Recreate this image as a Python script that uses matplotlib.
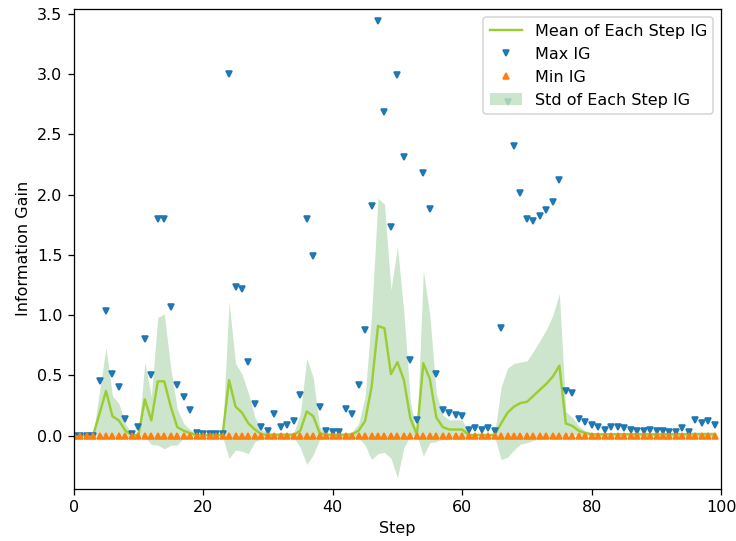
import matplotlib
matplotlib.use("Agg")  # headless
import matplotlib.pyplot as plt
import numpy as np

steps = np.arange(100)

max_ig = [
    0.0, 0.0, 0.0, 0.0, 0.45, 1.03, 0.51, 0.40, 0.14, 0.01,
    0.07, 0.80, 0.50, 1.80, 1.80, 1.07, 0.42, 0.32, 0.21, 0.02,
    0.01, 0.01, 0.01, 0.01, 3.00, 1.23, 1.22, 0.61, 0.26, 0.07,
    0.04, 0.18, 0.07, 0.09, 0.12, 0.34, 1.80, 1.49, 0.24, 0.04,
    0.03, 0.03, 0.22, 0.18, 0.42, 0.88, 1.91, 3.44, 2.69, 1.73,
    2.99, 2.31, 0.63, 0.13, 2.18, 1.88, 0.51, 0.21, 0.19, 0.17,
    0.16, 0.05, 0.06, 0.05, 0.06, 0.04, 0.89, 2.77, 2.40, 2.01,
    1.80, 1.78, 1.82, 1.87, 1.94, 2.12, 0.37, 0.35, 0.14, 0.11,
    0.09, 0.07, 0.05, 0.07, 0.07, 0.065, 0.05, 0.04, 0.04, 0.045,
    0.04, 0.035, 0.03, 0.03, 0.06, 0.03, 0.13, 0.10, 0.12, 0.09,
]

min_ig = [0.0] * 100

mean_ig = [
    0.0, 0.0, 0.0, 0.0, 0.18, 0.37, 0.16, 0.125, 0.04, 0.005,
    0.0, 0.30, 0.125, 0.45, 0.45, 0.24, 0.07, 0.04, 0.02, 0.005,
    0.003, 0.003, 0.003, 0.003, 0.46, 0.24, 0.19, 0.10, 0.05, 0.01,
    0.005, 0.005, 0.005, 0.005, 0.005, 0.04, 0.20, 0.16, 0.02, 0.005,
    0.005, 0.005, 0.005, 0.01, 0.04, 0.12, 0.40, 0.91, 0.89, 0.51,
    0.61, 0.46, 0.14, 0.01, 0.60, 0.47, 0.15, 0.07, 0.05, 0.05,
    0.05, 0.005, 0.005, 0.005, 0.005, 0.005, 0.10, 0.19, 0.24, 0.27,
    0.28, 0.33, 0.38, 0.43, 0.49, 0.58, 0.10, 0.08, 0.04, 0.02,
    0.01, 0.01, 0.01, 0.01, 0.01, 0.01, 0.01, 0.01, 0.01, 0.01,
    0.01, 0.01, 0.01, 0.01, 0.01, 0.01, 0.01, 0.01, 0.01, 0.01,
]

std_ig = [
    0.0, 0.0, 0.0, 0.0, 0.19, 0.36, 0.17, 0.14, 0.06, 0.01,
    0.005, 0.31, 0.20, 0.53, 0.56, 0.32, 0.15, 0.06, 0.03, 0.01,
    0.01, 0.01, 0.01, 0.01, 0.65, 0.36, 0.32, 0.25, 0.10, 0.04,
    0.02, 0.02, 0.02, 0.02, 0.02, 0.14, 0.44, 0.32, 0.05, 0.02,
    0.02, 0.02, 0.02, 0.02, 0.06, 0.20, 0.60, 1.06, 1.03, 0.70,
    0.96, 0.56, 0.14, 0.01, 0.77, 0.53, 0.20, 0.10, 0.08, 0.08,
    0.08, 0.01, 0.01, 0.01, 0.01, 0.01, 0.30, 0.37, 0.36, 0.34,
    0.34, 0.37, 0.41, 0.45, 0.51, 0.60, 0.10, 0.07, 0.04, 0.02,
    0.015, 0.015, 0.015, 0.015, 0.015, 0.015, 0.015, 0.015, 0.015, 0.015,
    0.015, 0.015, 0.015, 0.015, 0.015, 0.02, 0.02, 0.02, 0.02, 0.02,
]

mean = np.array(mean_ig)
std = np.array(std_ig)

# rendered at a higher dpi so fonts come out a bit larger, like the original
fig, ax = plt.subplots(figsize=(736 / 115, 541 / 115), dpi=115)
fig.subplots_adjust(left=0.100, right=0.980, top=0.983, bottom=0.097)

ax.plot(steps, mean, color="yellowgreen", label="Mean of Each Step IG")
ax.plot(steps, max_ig, "v", color="C0", markersize=4.3, label="Max IG")
ax.plot(steps, min_ig, "^", color="C1", markersize=4.3, label="Min IG")
ax.fill_between(steps, mean - std, mean + std, color="green", alpha=0.2,
                linewidth=0, label="Std of Each Step IG")

ax.set_xlim(0, 100)
ax.set_ylim(-0.44, 3.54)
ax.set_xlabel("Step")
ax.set_ylabel("Information Gain")
ax.legend(loc="upper right")

fig.savefig("out.png", dpi=115)
